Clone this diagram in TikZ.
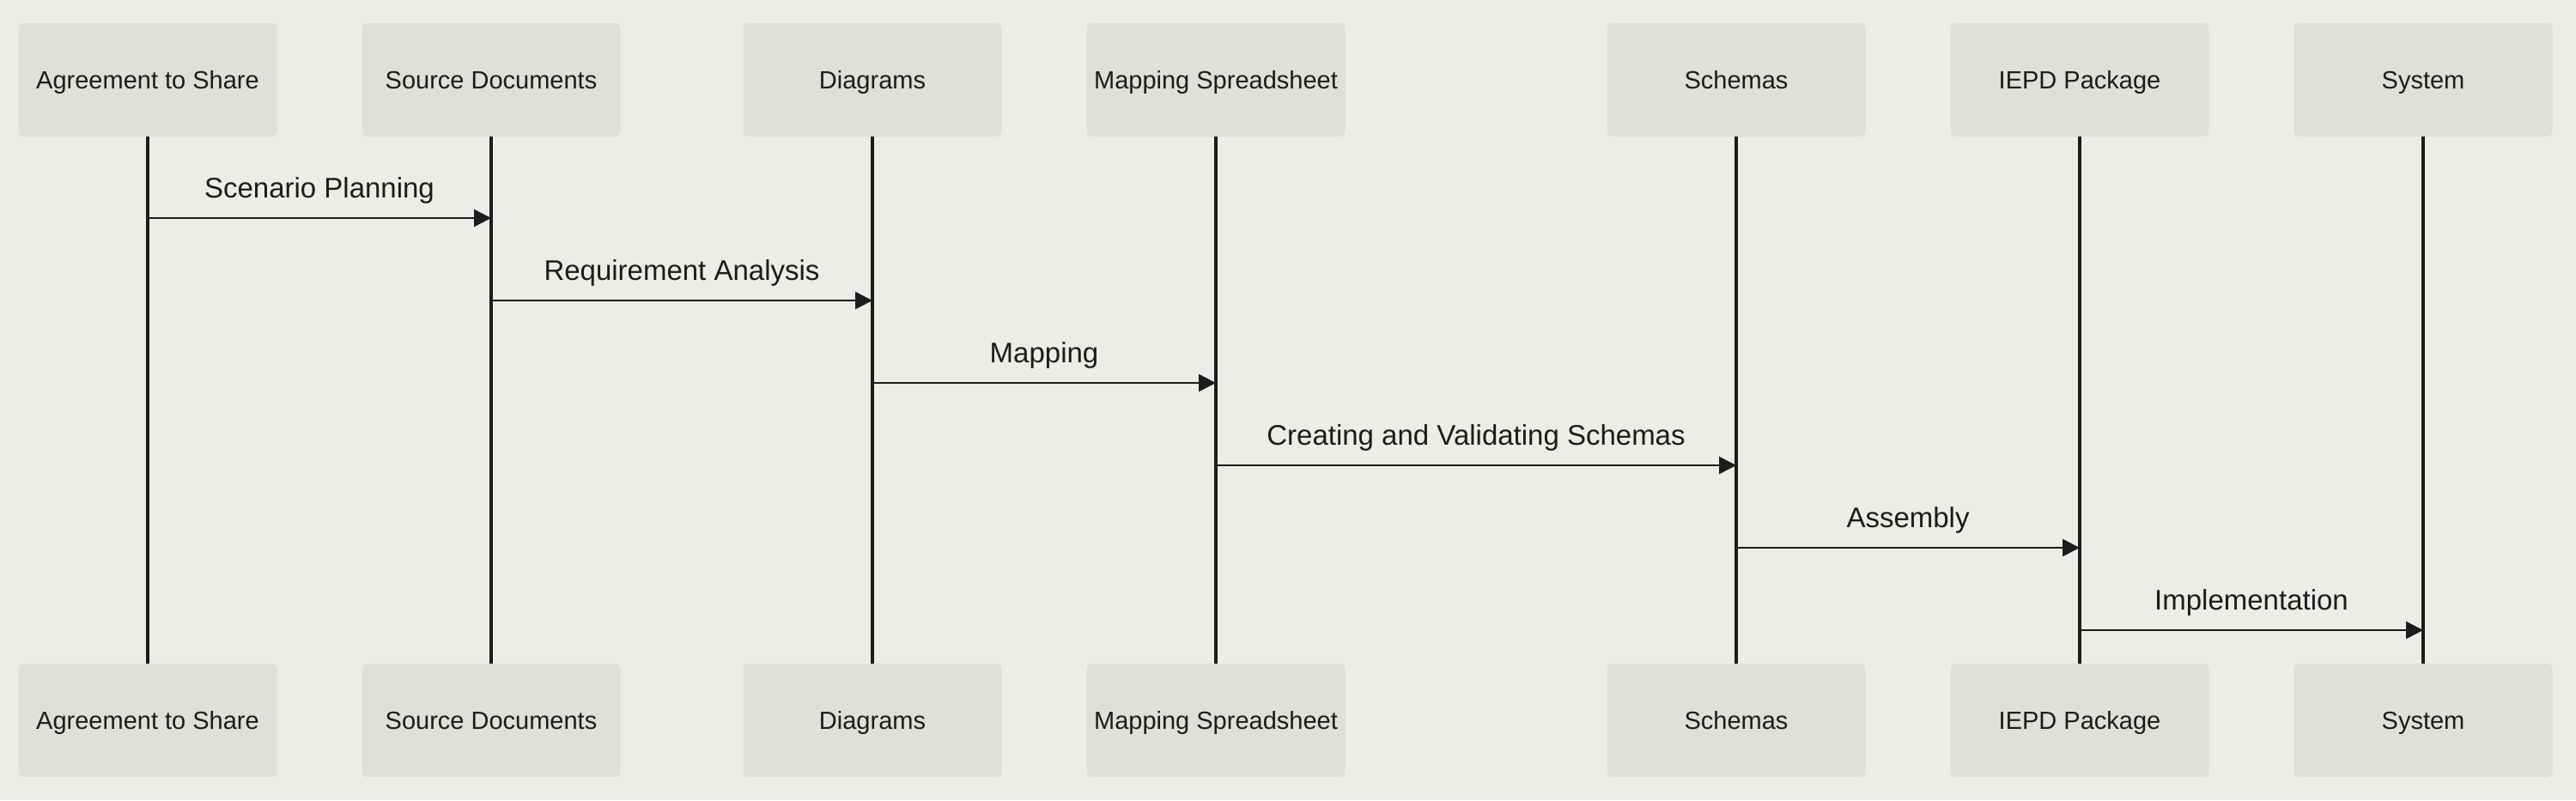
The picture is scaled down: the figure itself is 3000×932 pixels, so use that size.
\documentclass[tikz,border=0pt]{standalone}
\usepackage{fontspec}
\setmainfont{Liberation Sans}
\usetikzlibrary{arrows.meta}
\definecolor{bg}{HTML}{EDECE8}
\definecolor{boxfill}{HTML}{E0DFDC}
\definecolor{ink}{HTML}{1C1C1C}
\begin{document}
\begin{tikzpicture}[x=1pt,y=-1pt,
  actor/.style={rectangle, rounded corners=6pt, fill=boxfill, draw=none,
    minimum width=301pt, minimum height=132pt, inner sep=0pt,
    text=ink, font=\fontsize{29}{34}\selectfont, text height=21pt, text depth=0pt},
  life/.style={draw=ink, line width=3.5pt},
  msg/.style={draw=ink, line width=2.5pt, -{Triangle[length=20pt,width=20pt]}},
  lbl/.style={text=ink, font=\fontsize{33}{38}\selectfont, anchor=base, inner sep=0pt, yshift=24pt}]
\fill[bg] (0,0) rectangle (3000,932);
\useasboundingbox (0,0) rectangle (3000,932);
% top actors
\node[actor] (t1) at (172,93) {Agreement to Share};
\node[actor] (t2) at (572,93) {Source Documents};
\node[actor] (t3) at (1016,93) {Diagrams};
\node[actor] (t4) at (1416,93) {Mapping Spreadsheet};
\node[actor] (t5) at (2022,93) {Schemas};
\node[actor] (t6) at (2422,93) {IEPD Package};
\node[actor] (t7) at (2822,93) {System};
% bottom actors
\node[actor] (b1) at (172,839) {Agreement to Share};
\node[actor] (b2) at (572,839) {Source Documents};
\node[actor] (b3) at (1016,839) {Diagrams};
\node[actor] (b4) at (1416,839) {Mapping Spreadsheet};
\node[actor] (b5) at (2022,839) {Schemas};
\node[actor] (b6) at (2422,839) {IEPD Package};
\node[actor] (b7) at (2822,839) {System};
% lifelines
\foreach \i in {1,...,7} {\draw[life] (t\i.south) -- (b\i.north);}
% messages
\draw[msg] (t1.south |- 0,254) -- node[lbl, midway]{Scenario Planning} (t2.south |- 0,254);
\draw[msg] (t2.south |- 0,350) -- node[lbl, midway]{Requirement Analysis} (t3.south |- 0,350);
\draw[msg] (t3.south |- 0,446) -- node[lbl, midway]{Mapping} (t4.south |- 0,446);
\draw[msg] (t4.south |- 0,542) -- node[lbl, midway]{Creating and Validating Schemas} (t5.south |- 0,542);
\draw[msg] (t5.south |- 0,638) -- node[lbl, midway]{Assembly} (t6.south |- 0,638);
\draw[msg] (t6.south |- 0,734) -- node[lbl, midway]{Implementation} (t7.south |- 0,734);
\end{tikzpicture}
\end{document}
